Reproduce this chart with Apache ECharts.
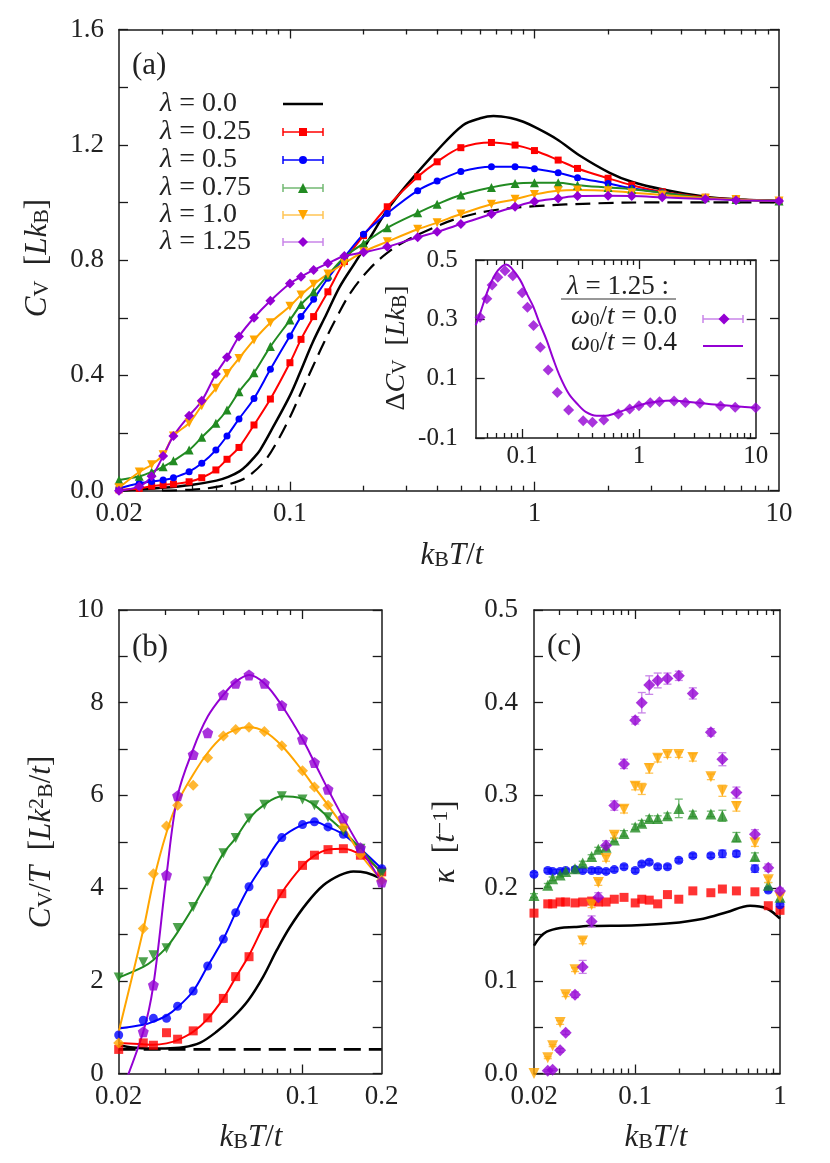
<!DOCTYPE html>
<html>
<head>
<meta charset="utf-8">
<script src="https://cdn.jsdelivr.net/npm/echarts@6.0.0/dist/echarts.min.js"></script>
<style>
  html, body { margin: 0; padding: 0; background: #fff; }
  #chart { width: 830px; height: 1163px; }
</style>
</head>
<body>
<div id="chart"></div>
<script>
const FONT = 'Liberation Serif';

// ---- panel (a): C_V vs k_B T/t ----
const tA = [0.02, 0.0242, 0.0272, 0.0303, 0.0334, 0.0387, 0.0436, 0.0498, 0.0553, 0.0619, 0.0713, 0.0832,
  0.1, 0.111, 0.125, 0.143, 0.167, 0.2, 0.25, 0.333, 0.4, 0.5, 0.667, 0.833, 1.0, 1.25, 1.5, 2.0, 2.5, 3.33, 5.0, 6.67, 10];
const cvA025 = [0.003, 0.008, 0.016, 0.020, 0.023, 0.031, 0.045, 0.072, 0.109, 0.150, 0.228, 0.318, 0.444, 0.525, 0.604,
  0.690, 0.795, 0.885, 0.985, 1.089, 1.141, 1.190, 1.208, 1.199, 1.180, 1.147, 1.118, 1.084, 1.060, 1.037, 1.018, 1.011, 1.005];
const cvA05 = [0.008, 0.026, 0.032, 0.037, 0.045, 0.066, 0.095, 0.141, 0.190, 0.249, 0.320, 0.421, 0.537, 0.604, 0.664,
  0.737, 0.810, 0.890, 0.962, 1.041, 1.074, 1.107, 1.124, 1.124, 1.117, 1.103, 1.086, 1.066, 1.049, 1.034, 1.015, 1.010, 1.005];
const cvA075 = [0.037, 0.050, 0.065, 0.083, 0.104, 0.141, 0.185, 0.234, 0.280, 0.343, 0.409, 0.500, 0.592, 0.646, 0.690,
  0.748, 0.810, 0.858, 0.912, 0.964, 0.994, 1.026, 1.052, 1.066, 1.068, 1.068, 1.060, 1.052, 1.046, 1.034, 1.016, 1.010, 1.005];
const cvA10 = [0.010, 0.065, 0.090, 0.125, 0.190, 0.235, 0.295, 0.355, 0.407, 0.459, 0.523, 0.583, 0.640, 0.679, 0.716,
  0.752, 0.789, 0.829, 0.864, 0.907, 0.930, 0.960, 0.994, 1.011, 1.028, 1.041, 1.043, 1.041, 1.034, 1.026, 1.015, 1.010, 1.005];
const cvA125 = [0.000, 0.015, 0.050, 0.120, 0.190, 0.260, 0.312, 0.405, 0.463, 0.535, 0.600, 0.659, 0.719, 0.742, 0.766,
  0.789, 0.814, 0.827, 0.846, 0.879, 0.898, 0.925, 0.960, 0.985, 1.003, 1.014, 1.022, 1.023, 1.022, 1.018, 1.012, 1.008, 1.005];
// lambda = 0 (solid) and the dashed reference curve
const tA0 = [0.02, 0.03, 0.04, 0.05, 0.056, 0.0624, 0.067, 0.0708, 0.0755, 0.0855, 0.1, 0.11, 0.124, 0.141, 0.16, 0.1875,
  0.218, 0.25, 0.3, 0.4, 0.51, 0.6, 0.68, 0.8, 0.9, 1.0, 1.23, 1.53, 2.03, 2.5, 3.36, 5, 7, 10];
const cvA0 = [0.0, 0.010, 0.021, 0.035, 0.048, 0.068, 0.090, 0.112, 0.141, 0.222, 0.330, 0.410, 0.515, 0.612, 0.708, 0.800,
  0.893, 0.974, 1.060, 1.180, 1.268, 1.292, 1.300, 1.293, 1.280, 1.262, 1.220, 1.163, 1.103, 1.072, 1.045, 1.020, 1.010, 1.005];
const tAd = [0.03, 0.04, 0.05, 0.0624, 0.07, 0.08, 0.09, 0.1, 0.111, 0.124, 0.138, 0.155, 0.178, 0.212, 0.25, 0.3,
  0.4, 0.5, 0.68, 1.0, 1.8, 3, 10];
const cvAd = [0.0, 0.004, 0.013, 0.035, 0.060, 0.110, 0.180, 0.255, 0.340, 0.430, 0.515, 0.600, 0.690, 0.770, 0.825, 0.868,
  0.918, 0.948, 0.973, 0.987, 0.997, 1.0, 1.0];

// ---- inset: Delta C_V for lambda = 1.25 ----
const tI = [0.0436, 0.0498, 0.0553, 0.0619, 0.0713, 0.0832, 0.1, 0.111, 0.125, 0.143, 0.167, 0.2, 0.25, 0.333,
  0.4, 0.5, 0.667, 0.833, 1.0, 1.25, 1.5, 2.0, 2.5, 3.33, 5.0, 6.67, 10];
const dCw00 = [0.307, 0.369, 0.416, 0.442, 0.464, 0.447, 0.390, 0.341, 0.279, 0.206, 0.129, 0.053, -0.006, -0.042,
  -0.047, -0.039, -0.019, -0.002, 0.009, 0.019, 0.022, 0.025, 0.020, 0.017, 0.008, 0.004, 0.002];
const tIl = [0.04, 0.0436, 0.05, 0.055, 0.062, 0.0728, 0.08, 0.096, 0.11, 0.1245, 0.14, 0.162, 0.185, 0.211, 0.25,
  0.293, 0.35, 0.435, 0.52, 0.602, 0.838, 1.16, 1.5, 1.97, 2.5, 3.33, 5, 10];
const dCw04 = [0.28, 0.32, 0.39, 0.43, 0.465, 0.485, 0.475, 0.433, 0.385, 0.343, 0.29, 0.23, 0.165, 0.107, 0.05,
  0.017, -0.012, -0.025, -0.025, -0.019, 0.0, 0.017, 0.024, 0.026, 0.023, 0.018, 0.011, 0.002];

// ---- panel (b): C_V/T ----
const tB = [0.02, 0.0248, 0.0271, 0.0304, 0.0335, 0.0384, 0.0436, 0.05, 0.0557, 0.0626, 0.0716, 0.0834, 0.1, 0.111,
  0.125, 0.143, 0.166, 0.2];
const cvtB025 = [0.52, 0.66, 0.61, 0.88, 0.74, 0.92, 1.20, 1.62, 2.09, 2.52, 3.24, 3.88, 4.49, 4.71, 4.83, 4.85, 4.71, 4.35];
const cvtB05 = [0.83, 1.15, 1.19, 1.19, 1.45, 1.78, 2.32, 2.90, 3.47, 4.03, 4.54, 5.09, 5.37, 5.43, 5.32, 5.16, 4.85, 4.42];
const cvtB075 = [2.07, 2.40, 2.55, 2.70, 3.14, 3.59, 4.14, 4.75, 5.08, 5.50, 5.80, 5.98, 5.91, 5.79, 5.53, 5.23, 4.85, 4.31];
const cvtB10 = [0.66, 3.13, 4.31, 5.34, 5.79, 6.22, 6.81, 7.28, 7.42, 7.47, 7.38, 7.07, 6.53, 6.18, 5.79, 5.32, 4.73, 4.17];
const cvtB125 = [null, 0.90, 1.91, 4.28, 5.99, 6.88, 7.35, 8.17, 8.42, 8.60, 8.42, 7.94, 7.21, 6.71, 6.13, 5.51, 4.87, 4.13];
// fitted curves through the (b) points
const fitB025 = [0.66, 0.63, 0.62, 0.65, 0.72, 0.90, 1.18, 1.62, 2.07, 2.55, 3.22, 3.90, 4.48, 4.70, 4.83, 4.85, 4.72, 4.35];
const fitB05 = [0.97, 1.05, 1.12, 1.25, 1.43, 1.78, 2.32, 2.90, 3.47, 4.03, 4.54, 5.09, 5.37, 5.43, 5.32, 5.16, 4.85, 4.42];
const fitB075 = [2.07, 2.30, 2.45, 2.72, 3.05, 3.59, 4.14, 4.75, 5.08, 5.50, 5.80, 5.98, 5.93, 5.79, 5.53, 5.23, 4.85, 4.31];
const fitB10 = [0.90, 3.10, 4.15, 5.20, 5.85, 6.45, 6.92, 7.28, 7.42, 7.47, 7.38, 7.07, 6.53, 6.18, 5.79, 5.32, 4.73, 4.17];
const fitB125 = [-0.55, 0.90, 1.91, 4.28, 5.99, 7.00, 7.70, 8.17, 8.45, 8.60, 8.42, 7.94, 7.21, 6.71, 6.13, 5.51, 4.87, 4.13];
const tB0 = [0.02, 0.0227, 0.0263, 0.03, 0.0352, 0.0407, 0.0471, 0.0546, 0.0622, 0.0709, 0.0798, 0.0896, 0.1037, 0.12,
  0.1388, 0.156, 0.175, 0.2];
const cvtB0 = [0.61, 0.56, 0.54, 0.54, 0.565, 0.66, 0.90, 1.22, 1.58, 2.09, 2.66, 3.16, 3.67, 4.06, 4.28, 4.36, 4.33, 4.20];
const tBd = [0.02, 0.2];
const cvtBd = [0.52, 0.52];

// ---- panel (c): kappa ----
const tC = [0.02, 0.0249, 0.0269, 0.0303, 0.0331, 0.0384, 0.0434, 0.05, 0.0556, 0.0629, 0.0717, 0.0837, 0.1, 0.111,
  0.125, 0.143, 0.167, 0.2, 0.25, 0.333, 0.4, 0.5, 0.671, 0.83, 1.0];
const kC025 = [0.173, 0.183, 0.183, 0.185, 0.185, 0.184, 0.185, 0.186, 0.185, 0.185, 0.188, 0.190, 0.184, 0.188, 0.187,
  0.183, 0.193, 0.188, 0.197, 0.195, 0.199, 0.197, 0.196, 0.181, 0.176];
const kC05 = [0.215, 0.219, 0.218, 0.218, 0.219, 0.220, 0.219, 0.219, 0.219, 0.218, 0.220, 0.223, 0.219, 0.226, 0.228,
  0.223, 0.223, 0.230, 0.235, 0.235, 0.237, 0.237, 0.221, 0.198, 0.182];
const kC075 = [0.192, 0.203, 0.210, 0.214, 0.218, 0.221, 0.227, 0.234, 0.242, 0.244, 0.252, 0.259, 0.266, 0.270, 0.275,
  0.275, 0.278, 0.286, 0.280, 0.280, 0.278, 0.255, 0.234, 0.203, 0.190];
const kC10 = [0.0, 0.017, 0.030, 0.055, 0.085, 0.112, 0.143, 0.182, 0.206, 0.232, 0.257, 0.285, 0.310, 0.307, 0.329,
  0.340, 0.344, 0.344, 0.341, 0.320, 0.305, 0.288, 0.249, 0.209, 0.190];
const kC125 = [null, 0.003, 0.004, 0.025, 0.044, 0.085, 0.115, 0.164, 0.190, 0.246, 0.289, 0.334, 0.381, 0.400, 0.419,
  0.424, 0.426, 0.429, 0.410, 0.368, 0.339, 0.303, 0.258, 0.222, 0.197];
const errC05 = [0.002, 0.002, 0.002, 0.002, 0.002, 0.002, 0.002, 0.002, 0.002, 0.002, 0.002, 0.002, 0.002, 0.002, 0.002,
  0.002, 0.002, 0.002, 0.002, 0.002, 0.004, 0.003, 0.004, 0.002, 0.002];
const errC075 = [0.002, 0.002, 0.002, 0.002, 0.002, 0.002, 0.002, 0.002, 0.002, 0.002, 0.002, 0.003, 0.003, 0.003, 0.003,
  0.003, 0.003, 0.010, 0.003, 0.003, 0.006, 0.005, 0.004, 0.003, 0.003];
const errC10 = [0, 0.001, 0.001, 0.002, 0.002, 0.002, 0.003, 0.003, 0.003, 0.003, 0.003, 0.004, 0.004, 0.006, 0.005,
  0.004, 0.003, 0.003, 0.004, 0.003, 0.006, 0.005, 0.004, 0.003, 0.003];
const errC125 = [0, 0.001, 0.001, 0.002, 0.002, 0.003, 0.007, 0.006, 0.005, 0.005, 0.005, 0.005, 0.004, 0.011, 0.010,
  0.008, 0.006, 0.005, 0.006, 0.004, 0.007, 0.006, 0.005, 0.004, 0.003];
const tC0 = [0.02, 0.022, 0.0245, 0.0303, 0.038, 0.0462, 0.1024, 0.174, 0.295, 0.428, 0.621, 0.81, 1.0];
const kC0 = [0.138, 0.147, 0.153, 0.157, 0.158, 0.159, 0.160, 0.162, 0.167, 0.174, 0.181, 0.178, 0.167];

// tick positions / labels
const minorA = [0.03, 0.04, 0.05, 0.06, 0.07, 0.08, 0.09, 0.2, 0.3, 0.4, 0.5, 0.6, 0.7, 0.8, 0.9, 2, 3, 4, 5, 6, 7, 8, 9];
const minorI = [0.05, 0.06, 0.07, 0.08, 0.09, 0.2, 0.3, 0.4, 0.5, 0.6, 0.7, 0.8, 0.9, 2, 3, 4, 5, 6, 7, 8, 9];
const minorB = [0.03, 0.04, 0.05, 0.06, 0.07, 0.08, 0.09];
const minorC = [0.03, 0.04, 0.05, 0.06, 0.07, 0.08, 0.09, 0.2, 0.3, 0.4, 0.5, 0.6, 0.7, 0.8, 0.9];
const legendNames = ['0.0', '0.25', '0.5', '0.75', '1.0', '1.25'];

const COL = { red: '#ff0000', blue: '#0000ff', green: '#228b22', orange: '#ffa500', purple: '#9400d3' };
const ERRCOL = { blue: '#6666ff', green: '#72b872', orange: '#ffc455', purple: '#c985e8' };
const AX = '#1a1a1a';

const zip = (xs, ys) => xs.map((x, i) => [x, ys[i]]).filter(p => p[1] !== null);

const xAxes = [], yAxes = [];
function frame(gi, o) {
  const xi = xAxes.length, yi = yAxes.length;
  const lx = { type: 'log', logBase: 10, min: o.xMin, max: o.xMax, gridIndex: gi, splitLine: { show: false } };
  const tick = (len, vals) => ({ show: true, inside: true, length: len, customValues: vals, lineStyle: { color: AX, width: 1.3 } });
  const line = { show: true, onZero: false, lineStyle: { color: AX, width: 1.5 } };
  const noLine = { show: false, onZero: false };
  xAxes.push(Object.assign({}, lx, { position: 'bottom', axisLine: line, axisTick: tick(9, o.xMajor),
    axisLabel: { show: true, customValues: o.xLabels, margin: o.xMargin, color: '#222', fontFamily: FONT, fontSize: o.fs,
      formatter: v => String(Number(Number(v).toPrecision(3))) } }));
  xAxes.push(Object.assign({}, lx, { position: 'bottom', axisLine: noLine, axisTick: tick(5, o.xMinor), axisLabel: { show: false } }));
  xAxes.push(Object.assign({}, lx, { position: 'top', axisLine: line, axisTick: tick(9, o.xMajor), axisLabel: { show: false } }));
  xAxes.push(Object.assign({}, lx, { position: 'top', axisLine: noLine, axisTick: tick(5, o.xMinor), axisLabel: { show: false } }));
  const vy = { type: 'value', min: o.yMin, max: o.yMax, gridIndex: gi, splitLine: { show: false } };
  yAxes.push(Object.assign({}, vy, { position: 'left', axisLine: line, axisTick: tick(9, o.yTicks),
    axisLabel: { show: true, customValues: o.yLabels, margin: o.yMargin, color: '#222', fontFamily: FONT, fontSize: o.fs, formatter: o.yFmt } }));
  yAxes.push(Object.assign({}, vy, { position: 'right', axisLine: line, axisTick: tick(9, o.yTicks), axisLabel: { show: false } }));
  return { x: xi, y: yi };
}

const axA = frame(0, { xMin: 0.02, xMax: 10, xLabels: [0.02, 0.1, 1, 10], xMajor: [0.1, 1], xMinor: minorA, xMargin: 10,
  yMin: 0, yMax: 1.6, yTicks: [0, 0.2, 0.4, 0.6, 0.8, 1.0, 1.2, 1.4, 1.6], yLabels: [0, 0.4, 0.8, 1.2, 1.6],
  yFmt: v => v.toFixed(1), yMargin: 15, fs: 27 });
const axI = frame(1, { xMin: 0.04, xMax: 10, xLabels: [0.1, 1, 10], xMajor: [0.1, 1], xMinor: minorI, xMargin: 6,
  yMin: -0.1, yMax: 0.5, yTicks: [-0.1, 0.1, 0.3, 0.5], yLabels: [-0.1, 0.1, 0.3, 0.5],
  yFmt: v => v.toFixed(1), yMargin: 18, fs: 25 });
const axB = frame(2, { xMin: 0.02, xMax: 0.2, xLabels: [0.02, 0.1, 0.2], xMajor: [0.1], xMinor: minorB, xMargin: 10,
  yMin: 0, yMax: 10, yTicks: [0, 1, 2, 3, 4, 5, 6, 7, 8, 9, 10], yLabels: [0, 2, 4, 6, 8, 10],
  yFmt: v => String(Math.round(v)), yMargin: 15, fs: 27 });
const axC = frame(3, { xMin: 0.02, xMax: 1, xLabels: [0.02, 0.1, 1], xMajor: [0.1], xMinor: minorC, xMargin: 10,
  yMin: 0, yMax: 0.5, yTicks: [0, 0.05, 0.1, 0.15, 0.2, 0.25, 0.3, 0.35, 0.4, 0.45, 0.5], yLabels: [0, 0.1, 0.2, 0.3, 0.4, 0.5],
  yFmt: v => v.toFixed(1), yMargin: 16, fs: 27 });

function curve(ax, xs, ys, color, width, dash) {
  return { type: 'line', xAxisIndex: ax.x, yAxisIndex: ax.y, data: zip(xs, ys), smooth: 0.35, symbol: 'none', silent: true,
    lineStyle: { color: color, width: width, type: dash || 'solid' }, z: 3 };
}
function marked(ax, xs, ys, color, sym, size, rot) {
  return { type: 'line', xAxisIndex: ax.x, yAxisIndex: ax.y, data: zip(xs, ys), smooth: 0.35, symbol: sym, symbolSize: size,
    symbolRotate: rot || 0, showAllSymbol: true, silent: true, itemStyle: { color: color }, lineStyle: { color: color, width: 2 }, z: 4 };
}
function dots(ax, xs, ys, color, sym, size, rot) {
  return { type: 'scatter', xAxisIndex: ax.x, yAxisIndex: ax.y, data: zip(xs, ys), symbol: sym, symbolSize: size,
    symbolRotate: rot || 0, silent: true, itemStyle: { color: color }, z: 5 };
}
function errbars(ax, xs, ys, es, color) {
  return { type: 'custom', xAxisIndex: ax.x, yAxisIndex: ax.y, silent: true, z: 4, encode: { x: 0, y: 1 },
    data: xs.map((x, i) => [x, ys[i], es[i]]).filter(d => d[1] !== null && d[2] > 0),
    renderItem: function (params, api) {
      const x = api.value(0), y = api.value(1), e = api.value(2);
      const a = api.coord([x, y + e]), b = api.coord([x, y - e]);
      const st = { stroke: color, lineWidth: 1.3 };
      return { type: 'group', children: [
        { type: 'line', shape: { x1: a[0], y1: a[1], x2: b[0], y2: b[1] }, style: st },
        { type: 'line', shape: { x1: a[0] - 4, y1: a[1], x2: a[0] + 4, y2: a[1] }, style: st },
        { type: 'line', shape: { x1: b[0] - 4, y1: b[1], x2: b[0] + 4, y2: b[1] }, style: st }
      ] };
    } };
}

const PENT = 'path://M0,-10L9.51,-3.09L5.88,8.09L-5.88,8.09L-9.51,-3.09Z';

const series = [
  // (a)
  curve(axA, tAd, cvAd, '#000', 2.2, [15, 8]),
  curve(axA, tA0, cvA0, '#000', 2.5),
  marked(axA, tA, cvA025, COL.red, 'rect', 7),
  marked(axA, tA, cvA05, COL.blue, 'circle', 7),
  marked(axA, tA, cvA075, COL.green, 'triangle', 9),
  marked(axA, tA, cvA10, COL.orange, 'triangle', 9, 180),
  marked(axA, tA, cvA125, COL.purple, 'diamond', 10),
  // inset
  curve(axI, tIl, dCw04, COL.purple, 2),
  dots(axI, tI, dCw00, COL.purple, 'diamond', 11),
  // (b)
  curve(axB, tBd, cvtBd, '#000', 2.6, [17, 8]),
  curve(axB, tB0, cvtB0, '#000', 2.5),
  curve(axB, tB, fitB025, COL.red, 2),
  curve(axB, tB, fitB05, COL.blue, 2),
  curve(axB, tB, fitB075, COL.green, 2),
  curve(axB, tB, fitB10, COL.orange, 2),
  curve(axB, tB, fitB125, COL.purple, 2),
  dots(axB, tB, cvtB025, COL.red, 'rect', 9),
  dots(axB, tB, cvtB05, COL.blue, 'circle', 9),
  dots(axB, tB, cvtB075, COL.green, 'triangle', 10, 180),
  dots(axB, tB, cvtB10, COL.orange, 'diamond', 11),
  dots(axB, tB, cvtB125, COL.purple, PENT, 11),
  // (c)
  curve(axC, tC0, kC0, '#000', 2.5),
  errbars(axC, tC, kC05, errC05, ERRCOL.blue),
  errbars(axC, tC, kC075, errC075, ERRCOL.green),
  errbars(axC, tC, kC10, errC10, ERRCOL.orange),
  errbars(axC, tC, kC125, errC125, ERRCOL.purple),
  dots(axC, tC, kC025, COL.red, 'rect', 9),
  dots(axC, tC, kC05, COL.blue, 'circle', 9),
  dots(axC, tC, kC075, COL.green, 'triangle', 11),
  dots(axC, tC, kC10, COL.orange, 'triangle', 11, 180),
  dots(axC, tC, kC125, COL.purple, 'diamond', 12)
];

// ---- texts: titles, panel labels, legends ----
function rich(fs) {
  const s = Math.round(fs * 0.7), pad = Math.round(fs * 0.6);
  const base = { fontFamily: FONT, color: '#222' };
  return {
    i: Object.assign({ fontStyle: 'italic', fontSize: fs, lineHeight: fs, verticalAlign: 'middle' }, base),
    r: Object.assign({ fontSize: fs, lineHeight: fs, verticalAlign: 'middle' }, base),
    s: Object.assign({ fontSize: s, lineHeight: s, padding: [pad, 0, 0, 0], verticalAlign: 'bottom' }, base),
    p: Object.assign({ fontSize: s, lineHeight: s, padding: [0, 0, pad, 0], verticalAlign: 'top' }, base)
  };
}
const graphics = [];
function txt(x, y, text, fs, align, rot) {
  graphics.push({ type: 'text', x: x, y: y, rotation: rot || 0, silent: true, z: 100,
    style: { text: text, rich: rich(fs), fontFamily: FONT, fontSize: fs, fill: '#222',
      align: align || 'left', textAlign: align || 'left', verticalAlign: 'middle', textVerticalAlign: 'middle' } });
}
function seg(x1, y1, x2, y2, color, w) {
  graphics.push({ type: 'line', silent: true, z: 100, shape: { x1: x1, y1: y1, x2: x2, y2: y2 }, style: { stroke: color, lineWidth: w } });
}
function mark(kind, cx, cy, s, color) {
  const h = s / 2;
  let el;
  if (kind === 'rect') el = { type: 'rect', shape: { x: cx - h, y: cy - h, width: s, height: s } };
  else if (kind === 'circle') el = { type: 'circle', shape: { cx: cx, cy: cy, r: h } };
  else {
    const pts = {
      up: [[cx, cy - h], [cx + h, cy + h], [cx - h, cy + h]],
      down: [[cx - h, cy - h], [cx + h, cy - h], [cx, cy + h]],
      diamond: [[cx, cy - h], [cx + h, cy], [cx, cy + h], [cx - h, cy]]
    }[kind];
    el = { type: 'polygon', shape: { points: pts } };
  }
  el.silent = true; el.z = 101; el.style = { fill: color };
  graphics.push(el);
}
function errSample(x1, x2, y, color) {
  seg(x1, y, x2, y, color, 1.5);
  seg(x1, y - 4, x1, y + 4, color, 1.5);
  seg(x2, y - 4, x2, y + 4, color, 1.5);
}

const xTitle = '{i|k}{s|B}{i|T}{r|/}{i|t}';
txt(452, 556, xTitle, 31, 'center');
txt(251, 1138, xTitle, 31, 'center');
txt(656, 1138, xTitle, 31, 'center');
txt(38, 258, '{i|C}{s|V}{r|  [}{i|Lk}{s|B}{r|]}', 31, 'center', Math.PI / 2);
txt(42, 842, '{i|C}{s|V}{r|/}{i|T}{r|  [}{i|Lk}{p|2}{s|B}{r|/}{i|t}{r|]}', 31, 'center', Math.PI / 2);
txt(446, 842, '{i|κ}{r|  [}{i|t}{p|−1}{r|]}', 31, 'center', Math.PI / 2);
txt(397, 348, '{r|Δ}{i|C}{s|V}{r|  [}{i|Lk}{s|B}{r|]}', 28, 'center', Math.PI / 2);
txt(132, 66, '{r|(a)}', 31, 'left');
txt(132, 648, '{r|(b)}', 31, 'left');
txt(547, 647, '{r|(c)}', 31, 'left');

// main legend of panel (a)
const legendY = [104, 132, 160, 188, 215, 242];
const legendKind = [null, 'rect', 'circle', 'up', 'down', 'diamond'];
const legendCol = ['#000', COL.red, COL.blue, COL.green, COL.orange, COL.purple];
const legendBar = ['#000', COL.red, COL.blue, ERRCOL.green, ERRCOL.orange, ERRCOL.purple];
const legendSize = [0, 8, 8, 10, 10, 10];
legendNames.forEach((name, i) => {
  txt(160, legendY[i], '{i|λ}{r| = ' + name + '}', 28, 'left');
  if (i === 0) { seg(283, legendY[i], 323, legendY[i], '#000', 2.5); return; }
  errSample(283, 323, legendY[i], legendBar[i]);
  mark(legendKind[i], 303, legendY[i], legendSize[i], legendCol[i]);
});

// inset legend
txt(618, 287, '{i|λ}{r| = 1.25 :}', 27, 'center');
seg(561, 299, 676, 299, '#333', 1.2);
txt(677, 317, '{i|ω}{s|0}{r|/}{i|t}{r| = 0.0}', 27, 'right');
txt(677, 343, '{i|ω}{s|0}{r|/}{i|t}{r| = 0.4}', 27, 'right');
errSample(703, 743, 319, ERRCOL.purple);
mark('diamond', 724, 319, 11, COL.purple);
seg(703, 346, 743, 346, COL.purple, 2);

const chart = echarts.init(document.getElementById('chart'), null, { renderer: 'canvas' });
chart.setOption({
  animation: false,
  backgroundColor: '#fff',
  grid: [
    { left: 119, top: 29.5, width: 660, height: 461.2, containLabel: false, outerBoundsMode: 'none' },
    { left: 475.7, top: 260, width: 280, height: 178, containLabel: false, outerBoundsMode: 'none' },
    { left: 118.7, top: 610, width: 263, height: 463.5, containLabel: false, outerBoundsMode: 'none' },
    { left: 534, top: 610, width: 246, height: 463.5, containLabel: false, outerBoundsMode: 'none' }
  ],
  xAxis: xAxes,
  yAxis: yAxes,
  series: series,
  graphic: graphics
});
</script>
</body>
</html>
